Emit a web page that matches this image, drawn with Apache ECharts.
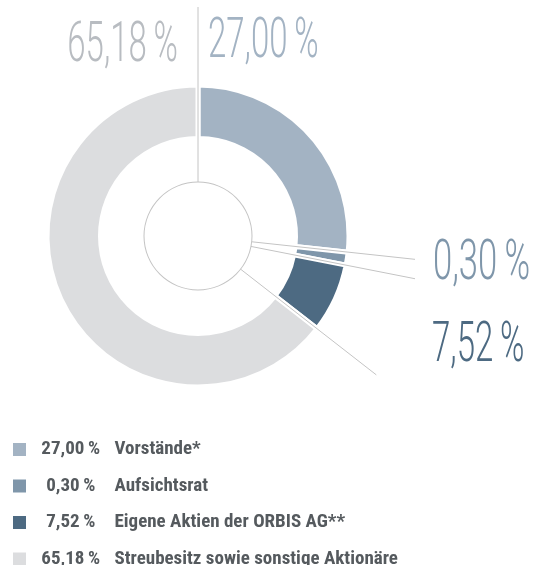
<!DOCTYPE html>
<html>
<head>
<meta charset="utf-8">
<script src="https://cdn.jsdelivr.net/npm/echarts@6/dist/echarts.min.js"></script>
<style>
html,body{margin:0;padding:0;background:#fff;}
#c{width:534px;height:565px;}
</style>
</head>
<body>
<div id="c"></div>
<script>
// ---- data ----
const categories = ['Vorstände*', 'Aufsichtsrat', 'Eigene Aktien der ORBIS AG**', 'Streubesitz sowie sonstige Aktionäre'];
const values = [27.00, 0.30, 7.52, 65.18];
const colors = ['#a3b3c3', '#7f96aa', '#4d6a82', '#dcdddf'];
const labelColors = ['#a3b3c3', '#7f96aa', '#4d6a82', '#b8bcc1'];

function fmt(v) { return v.toFixed(2).replace('.', ',') + '\u2009%'; }

const CX = 198, CY = 236;
const chart = echarts.init(document.getElementById('c'), null, { renderer: 'canvas' });

const legendFont = "Roboto, 'DejaVu Sans Condensed', sans-serif";

const option = {
  animation: false,
  color: colors,
  legend: {
    orient: 'vertical',
    left: 11,
    top: 440,
    height: 200,
    padding: 0,
    itemWidth: 15,
    itemHeight: 15,
    itemGap: 17.5,
    icon: 'rect',
    selectedMode: false,
    data: categories,
    formatter: function (name) {
      const i = categories.indexOf(name);
      return '{p|' + fmt(values[i]) + '}{n|' + name + '}';
    },
    textStyle: {
      rich: {
        p: { width: 77.5, align: 'right', fontFamily: legendFont, fontStyle: 'condensed', fontWeight: 'bold', fontSize: 19, color: '#555a5e', lineHeight: 15 },
        n: { padding: [0, 0, 0, 5], fontFamily: legendFont, fontStyle: 'condensed', fontWeight: 'bold', fontSize: 19, color: '#555a5e', lineHeight: 15 }
      }
    }
  },
  series: [
    {
      type: 'pie',
      name: 'Aktionärsstruktur',
      center: [CX, CY],
      radius: [97.5, 151],
      startAngle: 90,
      clockwise: true,
      minAngle: 5,
      silent: true,
      label: { show: false },
      labelLine: { show: false },
      itemStyle: { borderColor: '#ffffff', borderWidth: 5 },
      data: categories.map((n, i) => ({ name: n, value: values[i] }))
    },
    {
      type: 'pie',
      name: 'ring',
      center: [CX, CY],
      radius: [53.5, 54.5],
      silent: true,
      label: { show: false },
      labelLine: { show: false },
      itemStyle: { color: '#c4c4c4' },
      data: [{ name: '', value: 1 }]
    }
  ]
};
chart.setOption(option);

// guide lines along slice boundaries (from library layout)
const sData = chart.getModel().getSeriesByIndex(0).getData();
function lay(i) { return sData.getItemLayout(i); }
const lineSpecs = [
  { idx: 0, edge: 'startAngle', r: 229 },
  { idx: 1, edge: 'startAngle', toX: 415 },
  { idx: 1, edge: 'endAngle', toX: 415 },
  { idx: 2, edge: 'endAngle', r: 226 }
];
const graphics = [];
lineSpecs.forEach(s => {
  const L = lay(s.idx);
  const a = L[s.edge];
  const r1 = s.r !== undefined ? s.r : (s.toX - L.cx) / Math.cos(a);
  graphics.push({
    type: 'line', silent: true, z: 10,
    shape: { x1: L.cx + 54 * Math.cos(a), y1: L.cy + 54 * Math.sin(a), x2: L.cx + r1 * Math.cos(a), y2: L.cy + r1 * Math.sin(a) },
    style: { stroke: '#c4c4c4', lineWidth: 1 }
  });
});

// big value labels
const bigFont = "300 55px Roboto, 'DejaVu Sans', sans-serif";
const bigLabels = [
  { idx: 3, x: 178, y: 47, align: 'right', sx: 0.6 },
  { idx: 0, x: 208, y: 43.5, align: 'left', sx: 0.6 },
  { idx: 1, x: 433, y: 265, align: 'left', sx: 0.63 },
  { idx: 2, x: 432, y: 347, align: 'left', sx: 0.6 }
];
bigLabels.forEach(b => {
  graphics.push({
    type: 'text', silent: true, z: 10,
    x: b.x, y: b.y, scaleX: b.sx,
    style: { text: fmt(values[b.idx]), font: bigFont, fill: labelColors[b.idx], align: b.align, verticalAlign: 'middle' }
  });
});
chart.setOption({ graphic: graphics });
</script>
</body>
</html>
